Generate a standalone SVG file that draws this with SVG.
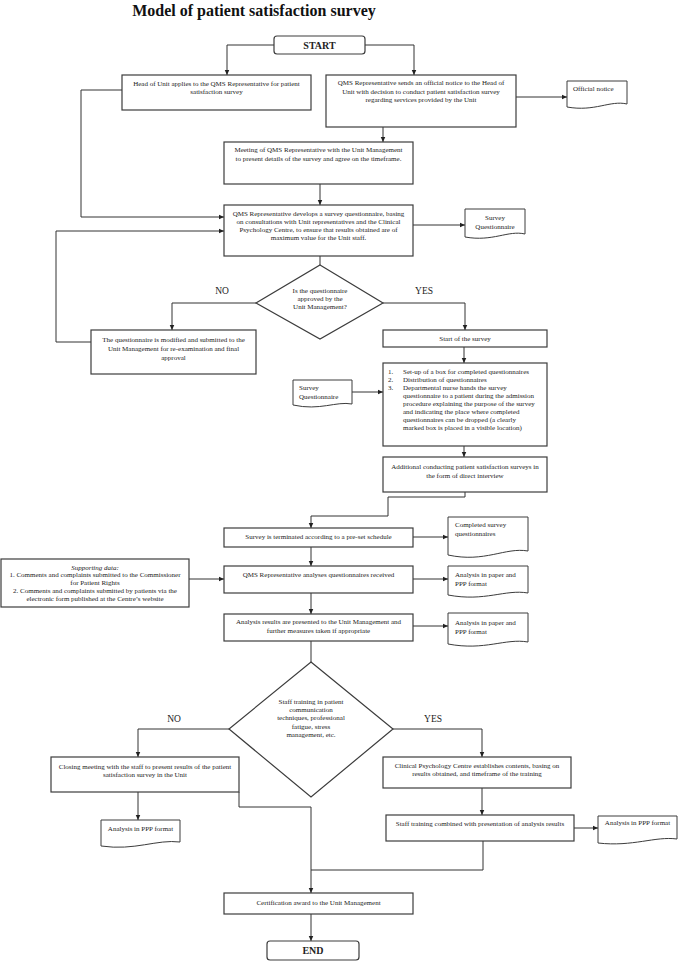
<svg xmlns="http://www.w3.org/2000/svg" width="678" height="961" viewBox="0 0 678 961">
<defs>
<marker id="arr" markerUnits="userSpaceOnUse" markerWidth="6" markerHeight="6" refX="5.5" refY="3" orient="auto">
<path d="M0,0.5 L5.5,3 L0,5.5 z" fill="#222"/>
</marker>
</defs>
<style>
.box{fill:#fff;stroke:#3c3c3c;stroke-width:1.2}
.doc{fill:#fff;stroke:#3c3c3c;stroke-width:1}
.t{font-family:"Liberation Serif","Times New Roman",serif;font-size:7px;fill:#222;text-anchor:middle}
.tl{font-family:"Liberation Serif","Times New Roman",serif;font-size:7px;fill:#222;text-anchor:start}
.lbl{font-family:"Liberation Serif","Times New Roman",serif;font-size:9.5px;fill:#222;text-anchor:middle}
.b{font-family:"Liberation Serif","Times New Roman",serif;font-size:10px;font-weight:bold;fill:#222;text-anchor:middle}
.c{fill:none;stroke:#333;stroke-width:1}
.a{fill:none;stroke:#333;stroke-width:1;marker-end:url(#arr)}
</style>
<rect width="678" height="961" fill="#fff"/>
<text x="254" y="16" font-family="'Liberation Serif','Times New Roman',serif" font-size="16" font-weight="bold" fill="#111" text-anchor="middle">Model of patient satisfaction survey</text>

<g id="connectors">
<path class="a" d="M274,45 H227 V75"/>
<path class="a" d="M365,45 H414 V75"/>
<path class="a" d="M516,97 H567"/>
<path class="a" d="M383,127 V142"/>
<path class="a" d="M320,184 V205"/>
<path class="a" d="M122,90 H81 V217 H224"/>
<path class="a" d="M413,225 H465"/>
<path class="c" d="M320,256 V265"/>
<path class="a" d="M256,303 H172 V330"/>
<path class="a" d="M383,303 H465 V330"/>
<path class="a" d="M91,342 H56 V231 H224"/>
<path class="a" d="M464,347 V363"/>
<path class="a" d="M352,392 H383"/>
<path class="a" d="M464,446 V457"/>
<path class="a" d="M465,492 V497 H388 V516 H311 V528"/>
<path class="a" d="M413,537 H448"/>
<path class="a" d="M311,547 V566"/>
<path class="a" d="M413,579 H448"/>
<path class="a" d="M189,579 H224"/>
<path class="a" d="M311,593 V614"/>
<path class="a" d="M413,626 H448"/>
<path class="c" d="M311,641 V662"/>
<path class="a" d="M229,729 H138 V757"/>
<path class="a" d="M393,729 H482 V757"/>
<path class="a" d="M138,792 V820"/>
<path class="a" d="M482,788 V815"/>
<path class="a" d="M574,828 H598"/>
<path class="a" d="M239,792 V807 H311 V893"/>
<path class="c" d="M483,841 V870 H311"/>
<path class="a" d="M311,914 V941"/>
</g>

<g id="start">
<rect class="box" x="274" y="36" width="91" height="18" rx="3"/>
<text class="b" x="319.5" y="48.5">START</text>
</g>

<g id="head-of-unit">
<rect class="box" x="122" y="75" width="189" height="35"/>
<text class="t" x="216.5" y="85.5">Head of Unit applies to the QMS Representative for patient</text>
<text class="t" x="216.5" y="93.5">satisfaction survey</text>
</g>

<g id="qms-notice">
<rect class="box" x="326" y="75" width="190" height="52"/>
<text class="t" x="421" y="85">QMS Representative sends an official notice to the Head of</text>
<text class="t" x="421" y="93.5">Unit with decision to conduct patient satisfaction survey</text>
<text class="t" x="421" y="102">regarding services provided by the Unit</text>
</g>

<g id="official-notice">
<path class="doc" d="M567,81 H627 V104 C610,100 595,112 567,107 Z"/>
<text class="tl" x="573" y="91">Official notice</text>
</g>

<g id="meeting">
<rect class="box" x="224" y="142" width="189" height="42"/>
<text class="t" x="318.5" y="152">Meeting of QMS Representative with the Unit Management</text>
<text class="t" x="318.5" y="161">to present details of the survey and agree on the timeframe.</text>
</g>

<g id="develops">
<rect class="box" x="224" y="205" width="189" height="51"/>
<text class="t" x="318.5" y="215.5">QMS Representative develops a survey questionnaire, basing</text>
<text class="t" x="318.5" y="223.5">on consultations with Unit representatives and the Clinical</text>
<text class="t" x="318.5" y="231.5">Psychology Centre, to ensure that results obtained are of</text>
<text class="t" x="318.5" y="240">maximum value for the Unit staff.</text>
</g>

<g id="survey-questionnaire-1">
<path class="doc" d="M465,209 H525 V234 C508,230 493,242 465,237 Z"/>
<text class="t" x="495" y="220">Survey</text>
<text class="t" x="495" y="229">Questionnaire</text>
</g>

<g id="decision-approved">
<path class="box" d="M320,265 L383,303 L320,339 L256,303 Z"/>
<text class="t" x="320" y="293">Is the questionnaire</text>
<text class="t" x="320" y="300.8">approved by the</text>
<text class="t" x="320" y="309">Unit Management?</text>
<text class="lbl" x="222" y="294">NO</text>
<text class="lbl" x="424" y="294">YES</text>
</g>

<g id="modified">
<rect class="box" x="91" y="330" width="165" height="44"/>
<text class="t" x="173.5" y="341.5">The questionnaire is modified and submitted to the</text>
<text class="t" x="173.5" y="350.5">Unit Management for re-examination and final</text>
<text class="t" x="173.5" y="360">approval</text>
</g>

<g id="start-survey">
<rect class="box" x="383" y="330" width="164" height="17"/>
<text class="t" x="465" y="341.3">Start of the survey</text>
</g>

<g id="steps">
<rect class="box" x="383" y="363" width="164" height="83"/>
<text class="tl" x="388" y="374">1.</text>
<text class="tl" x="403" y="374">Set-up of a box for completed questionnaires</text>
<text class="tl" x="388" y="382">2.</text>
<text class="tl" x="403" y="382">Distribution of questionnaires</text>
<text class="tl" x="388" y="390">3.</text>
<text class="tl" x="403" y="390">Departmental nurse hands the survey</text>
<text class="tl" x="403" y="398">questionnaire to a patient during the admission</text>
<text class="tl" x="403" y="406">procedure explaining the purpose of the survey</text>
<text class="tl" x="403" y="414">and indicating the place where completed</text>
<text class="tl" x="403" y="422">questionnaires can be dropped (a clearly</text>
<text class="tl" x="403" y="430">marked box is placed in a visible location)</text>
</g>

<g id="survey-questionnaire-2">
<path class="doc" d="M293,380 H352 V404 C336,401 320,411 293,405 Z"/>
<text class="tl" x="299" y="390">Survey</text>
<text class="tl" x="299" y="399">Questionnaire</text>
</g>

<g id="additional">
<rect class="box" x="383" y="457" width="164" height="35"/>
<text class="t" x="465" y="468.5">Additional conducting patient satisfaction surveys in</text>
<text class="t" x="465" y="477.5">the form of direct interview</text>
</g>

<g id="terminated">
<rect class="box" x="224" y="528" width="189" height="19"/>
<text class="t" x="318.5" y="538.5">Survey is terminated according to a pre-set schedule</text>
</g>

<g id="completed-questionnaires">
<path class="doc" d="M448,517 H528 V551 C505,547 485,563 448,555 Z"/>
<text class="tl" x="455" y="527">Completed survey</text>
<text class="tl" x="455" y="536">questionnaires</text>
</g>

<g id="supporting-data">
<rect class="box" x="1" y="559" width="188" height="48"/>
<text class="t" x="95" y="569.5" font-style="italic">Supporting data:</text>
<text class="t" x="95" y="577">1. Comments and complaints submitted to the Commissioner</text>
<text class="t" x="95" y="585">for Patient Rights</text>
<text class="t" x="95" y="593">2. Comments and complaints submitted by patients via the</text>
<text class="t" x="95" y="601">electronic form published at the Centre’s website</text>
</g>

<g id="analyses">
<rect class="box" x="224" y="566" width="189" height="27"/>
<text class="t" x="318.5" y="576.5">QMS Representative analyses questionnaires received</text>
</g>

<g id="analysis-doc-1">
<path class="doc" d="M448,566 H528 V593 C505,589 485,602 448,595 Z"/>
<text class="tl" x="455" y="576.5">Analysis in paper and</text>
<text class="tl" x="455" y="585.5">PPP format</text>
</g>

<g id="results">
<rect class="box" x="224" y="614" width="189" height="27"/>
<text class="t" x="318.5" y="624">Analysis results are presented to the Unit Management and</text>
<text class="t" x="318.5" y="632.5">further measures taken if appropriate</text>
</g>

<g id="analysis-doc-2">
<path class="doc" d="M448,613 H528 V642 C505,638 485,651 448,644 Z"/>
<text class="tl" x="455" y="624.5">Analysis in paper and</text>
<text class="tl" x="455" y="633.5">PPP format</text>
</g>

<g id="decision-training">
<path class="box" d="M311,662 L393,729 L311,797 L229,729 Z"/>
<text class="t" x="311" y="703.5">Staff training in patient</text>
<text class="t" x="311" y="711.5">communication</text>
<text class="t" x="311" y="720">techniques, professional</text>
<text class="t" x="311" y="728.5">fatigue, stress</text>
<text class="t" x="311" y="736.5">management, etc.</text>
<text class="lbl" x="174" y="722">NO</text>
<text class="lbl" x="433" y="722">YES</text>
</g>

<g id="closing-meeting">
<rect class="box" x="51" y="757" width="188" height="35"/>
<text class="t" x="145" y="768.5">Closing meeting with the staff to present results of the patient</text>
<text class="t" x="145" y="776.5">satisfaction survey in the Unit</text>
</g>

<g id="ppp-doc-1">
<path class="doc" d="M101,820 H180 V842 C157,839 135,851 101,846 Z"/>
<text class="t" x="140.5" y="830.5">Analysis in PPP format</text>
</g>

<g id="clinical-centre">
<rect class="box" x="383" y="757" width="188" height="31"/>
<text class="t" x="477" y="767.5">Clinical Psychology Centre establishes contents, basing on</text>
<text class="t" x="477" y="775.5">results obtained, and timeframe of the training</text>
</g>

<g id="staff-training">
<rect class="box" x="386" y="815" width="188" height="26"/>
<text class="t" x="480" y="825.5">Staff training combined with presentation of analysis results</text>
</g>

<g id="ppp-doc-2">
<path class="doc" d="M598,816 H677 V839 C655,836 633,847 598,843 Z"/>
<text class="t" x="637.5" y="824.5">Analysis in PPP format</text>
</g>

<g id="certification">
<rect class="box" x="224" y="893" width="189" height="21"/>
<text class="t" x="318.5" y="904.5">Certification award to the Unit Management</text>
</g>

<g id="end">
<rect class="box" x="267" y="941" width="92" height="19" rx="3"/>
<text class="b" x="313" y="954">END</text>
</g>
</svg>
